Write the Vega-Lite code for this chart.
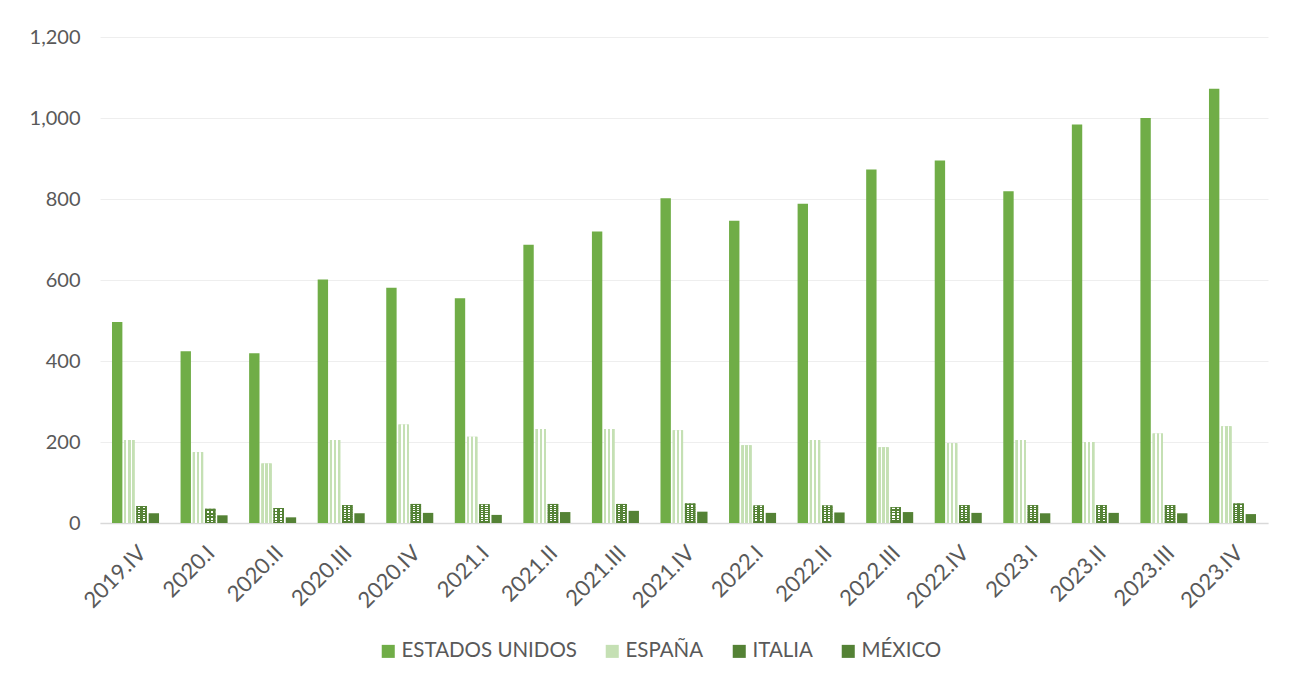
{
  "$schema": "https://vega.github.io/schema/vega-lite/v6.json",
  "width": 1168,
  "height": 486,
  "autosize": "none",
  "padding": {"left": 100, "top": 37, "right": 28, "bottom": 164},
  "background": "#ffffff",
  "config": {
    "font": "Lato",
    "view": {"stroke": null},
    "axis": {"labelFont": "Lato", "labelColor": "#595959"},
    "legend": {"labelFont": "Lato"}
  },
  "data": {
    "values": [
      {"q": "2019.IV", "country": "ESTADOS UNIDOS", "value": 496},
      {"q": "2019.IV", "country": "ESPAÑA", "value": 205},
      {"q": "2019.IV", "country": "ITALIA", "value": 42},
      {"q": "2019.IV", "country": "MÉXICO", "value": 24},
      {"q": "2020.I", "country": "ESTADOS UNIDOS", "value": 424},
      {"q": "2020.I", "country": "ESPAÑA", "value": 175},
      {"q": "2020.I", "country": "ITALIA", "value": 35},
      {"q": "2020.I", "country": "MÉXICO", "value": 19},
      {"q": "2020.II", "country": "ESTADOS UNIDOS", "value": 419},
      {"q": "2020.II", "country": "ESPAÑA", "value": 147},
      {"q": "2020.II", "country": "ITALIA", "value": 37},
      {"q": "2020.II", "country": "MÉXICO", "value": 14},
      {"q": "2020.III", "country": "ESTADOS UNIDOS", "value": 601},
      {"q": "2020.III", "country": "ESPAÑA", "value": 205},
      {"q": "2020.III", "country": "ITALIA", "value": 44},
      {"q": "2020.III", "country": "MÉXICO", "value": 24},
      {"q": "2020.IV", "country": "ESTADOS UNIDOS", "value": 581},
      {"q": "2020.IV", "country": "ESPAÑA", "value": 243},
      {"q": "2020.IV", "country": "ITALIA", "value": 47},
      {"q": "2020.IV", "country": "MÉXICO", "value": 25},
      {"q": "2021.I", "country": "ESTADOS UNIDOS", "value": 555},
      {"q": "2021.I", "country": "ESPAÑA", "value": 213},
      {"q": "2021.I", "country": "ITALIA", "value": 46},
      {"q": "2021.I", "country": "MÉXICO", "value": 20},
      {"q": "2021.II", "country": "ESTADOS UNIDOS", "value": 687},
      {"q": "2021.II", "country": "ESPAÑA", "value": 232},
      {"q": "2021.II", "country": "ITALIA", "value": 47},
      {"q": "2021.II", "country": "MÉXICO", "value": 27},
      {"q": "2021.III", "country": "ESTADOS UNIDOS", "value": 720},
      {"q": "2021.III", "country": "ESPAÑA", "value": 232},
      {"q": "2021.III", "country": "ITALIA", "value": 47},
      {"q": "2021.III", "country": "MÉXICO", "value": 30},
      {"q": "2021.IV", "country": "ESTADOS UNIDOS", "value": 802},
      {"q": "2021.IV", "country": "ESPAÑA", "value": 229},
      {"q": "2021.IV", "country": "ITALIA", "value": 48},
      {"q": "2021.IV", "country": "MÉXICO", "value": 28},
      {"q": "2022.I", "country": "ESTADOS UNIDOS", "value": 746},
      {"q": "2022.I", "country": "ESPAÑA", "value": 192},
      {"q": "2022.I", "country": "ITALIA", "value": 43},
      {"q": "2022.I", "country": "MÉXICO", "value": 25},
      {"q": "2022.II", "country": "ESTADOS UNIDOS", "value": 788},
      {"q": "2022.II", "country": "ESPAÑA", "value": 205},
      {"q": "2022.II", "country": "ITALIA", "value": 43},
      {"q": "2022.II", "country": "MÉXICO", "value": 26},
      {"q": "2022.III", "country": "ESTADOS UNIDOS", "value": 873},
      {"q": "2022.III", "country": "ESPAÑA", "value": 187},
      {"q": "2022.III", "country": "ITALIA", "value": 39},
      {"q": "2022.III", "country": "MÉXICO", "value": 27},
      {"q": "2022.IV", "country": "ESTADOS UNIDOS", "value": 895},
      {"q": "2022.IV", "country": "ESPAÑA", "value": 197},
      {"q": "2022.IV", "country": "ITALIA", "value": 44},
      {"q": "2022.IV", "country": "MÉXICO", "value": 25},
      {"q": "2023.I", "country": "ESTADOS UNIDOS", "value": 819},
      {"q": "2023.I", "country": "ESPAÑA", "value": 205},
      {"q": "2023.I", "country": "ITALIA", "value": 44},
      {"q": "2023.I", "country": "MÉXICO", "value": 24},
      {"q": "2023.II", "country": "ESTADOS UNIDOS", "value": 984},
      {"q": "2023.II", "country": "ESPAÑA", "value": 200},
      {"q": "2023.II", "country": "ITALIA", "value": 44},
      {"q": "2023.II", "country": "MÉXICO", "value": 25},
      {"q": "2023.III", "country": "ESTADOS UNIDOS", "value": 1000},
      {"q": "2023.III", "country": "ESPAÑA", "value": 221},
      {"q": "2023.III", "country": "ITALIA", "value": 44},
      {"q": "2023.III", "country": "MÉXICO", "value": 24},
      {"q": "2023.IV", "country": "ESTADOS UNIDOS", "value": 1072},
      {"q": "2023.IV", "country": "ESPAÑA", "value": 239},
      {"q": "2023.IV", "country": "ITALIA", "value": 48},
      {"q": "2023.IV", "country": "MÉXICO", "value": 22}
    ]
  },
  "encoding": {
    "x": {
      "field": "q",
      "type": "nominal",
      "sort": null,
      "title": null,
      "scale": {"paddingInner": 0.314, "paddingOuter": 0.175},
      "axis": {
        "labelAngle": -45,
        "labelFontSize": 22,
        "labelPadding": 19,
        "ticks": false,
        "domainColor": "#d9d9d9",
        "domainWidth": 1.5,
        "grid": false
      }
    },
    "xOffset": {
      "field": "country",
      "type": "nominal",
      "sort": ["ESTADOS UNIDOS", "ESPAÑA", "ITALIA", "MÉXICO"],
      "scale": {"domain": ["ESTADOS UNIDOS", "ESPAÑA", "ITALIA", "MÉXICO"], "paddingInner": 0.15, "paddingOuter": 0}
    },
    "y": {
      "field": "value",
      "type": "quantitative",
      "title": null,
      "scale": {"domain": [0, 1200], "nice": false},
      "axis": {
        "values": [0, 200, 400, 600, 800, 1000, 1200],
        "format": ",.0f",
        "labelFontSize": 20,
        "labelPadding": 20,
        "ticks": false,
        "domain": false,
        "gridColor": "#eeeeee",
        "gridWidth": 1
      }
    }
  },
  "layer": [
    {
      "mark": {"type": "bar"},
      "encoding": {
        "color": {
          "field": "country",
          "type": "nominal",
          "sort": ["ESTADOS UNIDOS", "ESPAÑA", "ITALIA", "MÉXICO"],
          "scale": {
            "domain": ["ESTADOS UNIDOS", "ESPAÑA", "ITALIA", "MÉXICO"],
            "range": ["#70ad47", "#c5e0b4", "#548235", "#548235"]
          },
          "legend": {
            "orient": "none",
            "legendX": 278,
            "legendY": 604,
            "padding": 0,
            "direction": "horizontal",
            "title": null,
            "symbolType": "square",
            "symbolSize": 170,
            "symbolStrokeWidth": 0,
            "labelFontSize": 20.5,
            "labelColor": "#595959",
            "labelLimit": 0,
            "columnPadding": 25,
            "labelOffset": 3
          }
        }
      }
    },
    {
      "transform": [{"filter": "datum.country === 'ESPAÑA'"}],
      "mark": {
        "type": "bar",
        "fill": {
          "gradient": "linear",
          "x1": 0, "x2": 1, "y1": 0, "y2": 0,
          "stops": [
            {"offset": 0, "color": "#c5e0b4"},
            {"offset": 0.22, "color": "#c5e0b4"},
            {"offset": 0.22, "color": "#ffffff"},
            {"offset": 0.39, "color": "#ffffff"},
            {"offset": 0.39, "color": "#c5e0b4"},
            {"offset": 0.61, "color": "#c5e0b4"},
            {"offset": 0.61, "color": "#ffffff"},
            {"offset": 0.78, "color": "#ffffff"},
            {"offset": 0.78, "color": "#c5e0b4"},
            {"offset": 1, "color": "#c5e0b4"}
          ]
        }
      },
      "encoding": {}
    },
    {
      "transform": [{"filter": "datum.country === 'ITALIA'"}],
      "mark": {
        "type": "bar",
        "fill": {
          "gradient": "linear",
          "x1": 0, "x2": 1, "y1": 0, "y2": 0,
          "stops": [
            {"offset": 0, "color": "#548235"},
            {"offset": 0.18, "color": "#548235"},
            {"offset": 0.18, "color": "#ffffff"},
            {"offset": 0.38, "color": "#ffffff"},
            {"offset": 0.38, "color": "#548235"},
            {"offset": 0.6, "color": "#548235"},
            {"offset": 0.6, "color": "#ffffff"},
            {"offset": 0.8, "color": "#ffffff"},
            {"offset": 0.8, "color": "#548235"},
            {"offset": 1, "color": "#548235"}
          ]
        }
      },
      "encoding": {}
    },
    {
      "transform": [{"filter": "datum.country === 'ITALIA'"}],
      "mark": {
        "type": "bar",
        "fill": {
          "gradient": "linear",
          "x1": 0, "x2": 0, "y1": 0, "y2": 1,
          "stops": [
            {"offset": 0, "color": "rgba(84,130,53,1)"},
            {"offset": 0.05, "color": "rgba(84,130,53,1)"},
            {"offset": 0.05, "color": "rgba(84,130,53,0)"},
            {"offset": 0.1, "color": "rgba(84,130,53,0)"},
            {"offset": 0.1, "color": "rgba(84,130,53,1)"},
            {"offset": 0.15, "color": "rgba(84,130,53,1)"},
            {"offset": 0.15, "color": "rgba(84,130,53,0)"},
            {"offset": 0.2, "color": "rgba(84,130,53,0)"},
            {"offset": 0.2, "color": "rgba(84,130,53,1)"},
            {"offset": 0.25, "color": "rgba(84,130,53,1)"},
            {"offset": 0.25, "color": "rgba(84,130,53,0)"},
            {"offset": 0.3, "color": "rgba(84,130,53,0)"},
            {"offset": 0.3, "color": "rgba(84,130,53,1)"},
            {"offset": 0.35, "color": "rgba(84,130,53,1)"},
            {"offset": 0.35, "color": "rgba(84,130,53,0)"},
            {"offset": 0.4, "color": "rgba(84,130,53,0)"},
            {"offset": 0.4, "color": "rgba(84,130,53,1)"},
            {"offset": 0.45, "color": "rgba(84,130,53,1)"},
            {"offset": 0.45, "color": "rgba(84,130,53,0)"},
            {"offset": 0.5, "color": "rgba(84,130,53,0)"},
            {"offset": 0.5, "color": "rgba(84,130,53,1)"},
            {"offset": 0.55, "color": "rgba(84,130,53,1)"},
            {"offset": 0.55, "color": "rgba(84,130,53,0)"},
            {"offset": 0.6, "color": "rgba(84,130,53,0)"},
            {"offset": 0.6, "color": "rgba(84,130,53,1)"},
            {"offset": 0.65, "color": "rgba(84,130,53,1)"},
            {"offset": 0.65, "color": "rgba(84,130,53,0)"},
            {"offset": 0.7, "color": "rgba(84,130,53,0)"},
            {"offset": 0.7, "color": "rgba(84,130,53,1)"},
            {"offset": 0.75, "color": "rgba(84,130,53,1)"},
            {"offset": 0.75, "color": "rgba(84,130,53,0)"},
            {"offset": 0.8, "color": "rgba(84,130,53,0)"},
            {"offset": 0.8, "color": "rgba(84,130,53,1)"},
            {"offset": 0.85, "color": "rgba(84,130,53,1)"},
            {"offset": 0.85, "color": "rgba(84,130,53,0)"},
            {"offset": 0.9, "color": "rgba(84,130,53,0)"},
            {"offset": 0.9, "color": "rgba(84,130,53,1)"},
            {"offset": 1, "color": "rgba(84,130,53,1)"}
          ]
        }
      },
      "encoding": {}
    }
  ]
}
